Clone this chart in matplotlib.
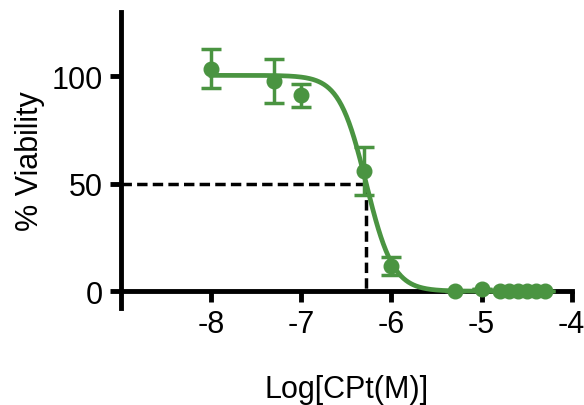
import matplotlib
matplotlib.use("Agg")
import matplotlib.pyplot as plt
import numpy as np

plt.rcParams['font.family'] = ['Liberation Sans', 'DejaVu Sans']

# measured points (log concentration, mean viability, error)
log_conc = [-8.0, -7.3, -7.0, -6.3, -6.0, -5.3, -5.0, -4.8, -4.7, -4.6, -4.5, -4.4, -4.3]
viability = [103.6, 97.8, 91.2, 56.0, 11.8, 0.0, 1.0, 0.0, 0.0, 0.0, 0.0, 0.0, 0.0]
err = [9.2, 10.4, 5.5, 11.0, 4.3, 0.0, 0.0, 0.0, 0.0, 0.0, 0.0, 0.0, 0.0]

# fitted dose-response parameters
top, bottom = 100.5, 0.0
log_ic50 = -6.28
hill = 2.9

x_ticks = [-8, -7, -6, -5, -4]
y_ticks = [0, 50, 100]

green = '#4a9441'

fig = plt.figure(figsize=(5.84, 4.06), dpi=100)
ax = fig.add_axes([0.207, 0.238, 0.772, 0.73])

# fitted curve
xf = np.linspace(-8, -4.3, 400)
yf = bottom + (top - bottom) / (1 + 10 ** ((xf - log_ic50) * hill))
ax.plot(xf, yf, color=green, lw=3.4, zorder=3)

ax.errorbar(log_conc, viability, yerr=err, fmt='o', color=green, ms=10.5,
            elinewidth=2.5, capsize=7, capthick=2.5, zorder=4)

# IC50 guide lines
ax.plot([-9, log_ic50], [50, 50], color='black', lw=2.5, ls=(0, (3, 1.5)), zorder=2)
ax.plot([log_ic50, log_ic50], [50, 0], color='black', lw=2.5, ls=(0, (3, 1.5)), zorder=2)

ax.set_xlim(-9, -4)
ax.set_ylim(-8, 130)
ax.spines['top'].set_visible(False)
ax.spines['right'].set_visible(False)
ax.spines['bottom'].set_position(('data', 0))
for s in ['left', 'bottom']:
    ax.spines[s].set_linewidth(3.5)
ax.set_xticks(x_ticks)
ax.set_xticklabels([str(t) for t in x_ticks])
ax.set_yticks(y_ticks)
ax.tick_params(direction='out', length=8, width=3.5, labelsize=22, pad=5)

ax.set_ylabel('% Viability', fontsize=22, labelpad=5)
fig.text(0.593, 0.04, 'Log[CPt(M)]', fontsize=22, ha='center', va='center')

fig.savefig('out.png', dpi=100)
